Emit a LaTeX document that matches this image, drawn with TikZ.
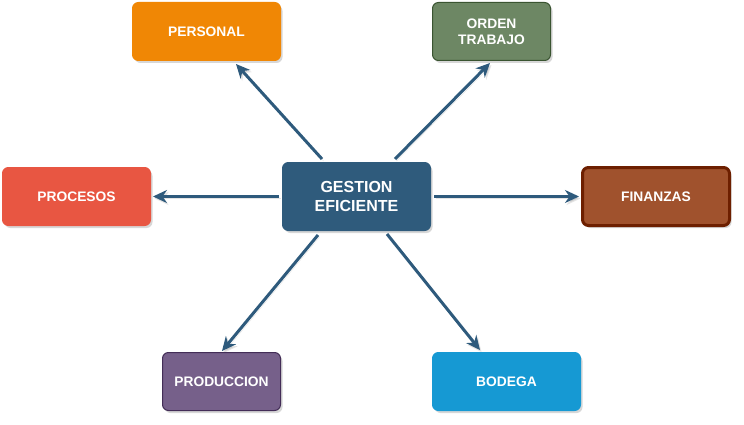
\documentclass[tikz,border=0pt]{standalone}
\usepackage{fontspec}
\setmainfont{Liberation Sans}
\usetikzlibrary{arrows.meta,shadows}
\definecolor{cpers}{HTML}{F08705}
\definecolor{corden}{HTML}{6D8764}
\definecolor{cordenb}{HTML}{3A5431}
\definecolor{cproc}{HTML}{E85642}
\definecolor{cgest}{HTML}{2F5B7C}
\definecolor{cfin}{HTML}{A0522D}
\definecolor{cfinb}{HTML}{6D1F00}
\definecolor{cprod}{HTML}{76608A}
\definecolor{cprodb}{HTML}{432D57}
\definecolor{cbod}{HTML}{1699D3}
\definecolor{carrow}{HTML}{2E5A7C}
\tikzset{
  box/.style={rectangle, rounded corners=6pt, text=white, align=center,
    font=\bfseries\fontsize{13.8}{15.7}\selectfont, inner sep=0pt,
    drop shadow={shadow xshift=2pt, shadow yshift=-2.5pt, opacity=0.22, fill=black!70}},
  conn/.style={line width=3pt, draw=carrow,
    -{Stealth[length=14pt,width=13pt,inset=4.5pt]},
    preaction={draw=black!70, opacity=0.15, transform canvas={xshift=1.5pt,yshift=-2pt}}}
}
\begin{document}
\begin{tikzpicture}[x=1pt,y=-1pt]
\useasboundingbox[fill=white] (0,0) rectangle (744,425);
\node[box, fill=cpers, draw=cpers, line width=1pt, minimum width=148pt, minimum height=58pt] (pers) at (206.5,31.5) {PERSONAL};
\node[box, fill=corden, draw=cordenb, line width=1pt, minimum width=118pt, minimum height=58pt] (orden) at (491.5,31.5) {ORDEN\\TRABAJO};
\node[box, fill=cproc, draw=cproc, line width=1pt, minimum width=148pt, minimum height=58pt] (proc) at (76.5,196.5) {PROCESOS};
\node[box, fill=cgest, draw=cgest, line width=1pt, minimum width=148pt, minimum height=68pt, font=\bfseries\fontsize{16}{18.5}\selectfont] (g) at (356.5,196.5) {GESTION\\EFICIENTE};
\node[box, fill=cfin, draw=cfinb, line width=3pt, minimum width=147pt, minimum height=58pt] (fin) at (656,196.5) {FINANZAS};
\node[box, fill=cprod, draw=cprodb, line width=1pt, minimum width=118pt, minimum height=58pt] (prod) at (221.5,381.5) {PRODUCCION};
\node[box, fill=cbod, draw=cbod, line width=1pt, minimum width=148pt, minimum height=58pt] (bod) at (506.5,381.5) {BODEGA};
\draw[conn] ([shift={(-34.5,-3)}]g.north) -- ([shift={(29.5,3)}]pers.south);
\draw[conn] ([shift={(38.5,-3)}]g.north) -- ([shift={(-1.5,2)}]orden.south);
\draw[conn] ([shift={(-3,0)}]g.west) -- ([shift={(2,0)}]proc.east);
\draw[conn] ([shift={(3,0)}]g.east) -- ([shift={(-2,0)}]fin.west);
\draw[conn] ([shift={(-38.5,4)}]g.south) -- ([shift={(0.5,-1)}]prod.north);
\draw[conn] ([shift={(30.5,3)}]g.south) -- ([shift={(-26.5,-2)}]bod.north);
\end{tikzpicture}
\end{document}
